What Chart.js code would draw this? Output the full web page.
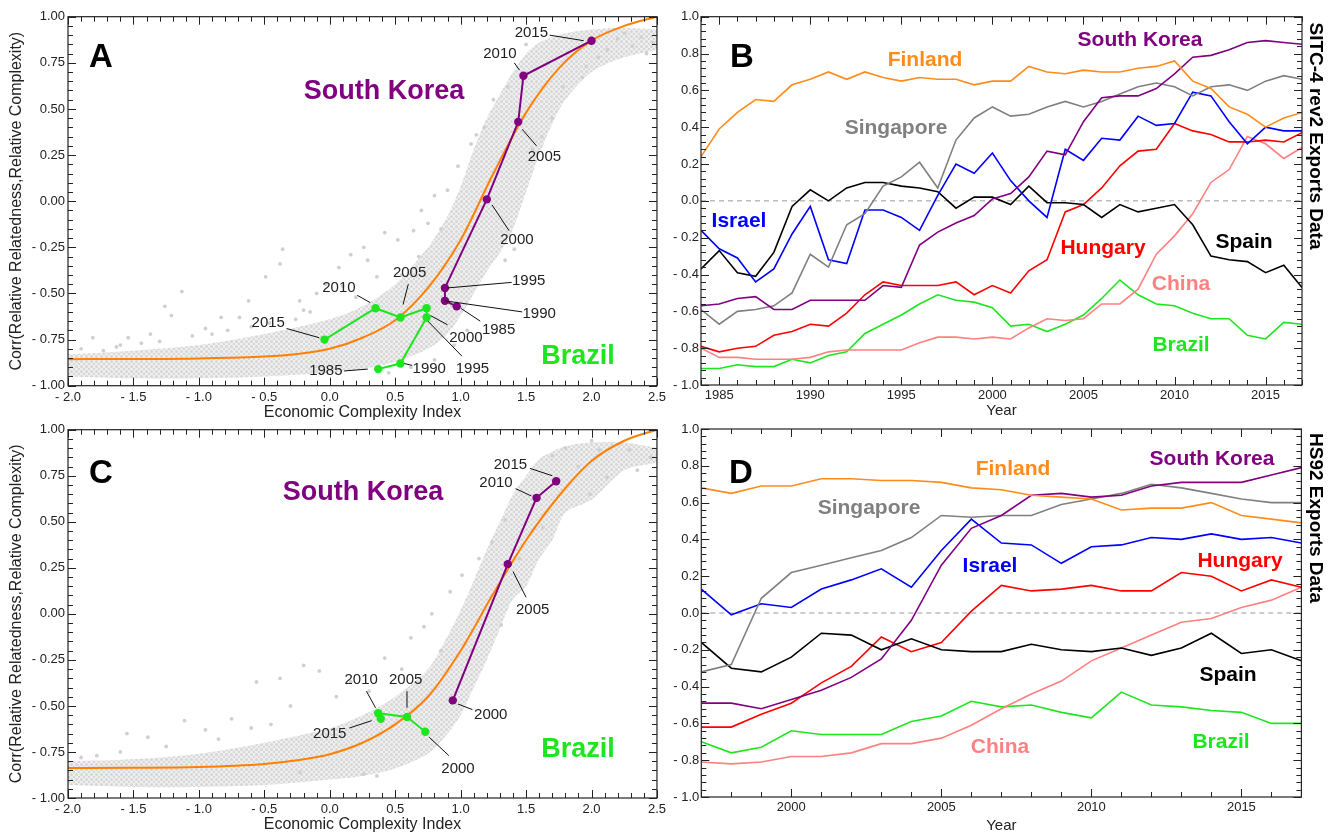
<!DOCTYPE html>
<html>
<head>
<meta charset="utf-8">
<script src="https://cdn.jsdelivr.net/npm/chart.js@4.4.1/dist/chart.umd.min.js"></script>
<style>
  body { margin: 0; background: #fff; width: 1336px; height: 838px; overflow: hidden; position: relative; font-family: 'Liberation Sans', Arial, sans-serif; }
  canvas { position: absolute; }
  .lbl { position: absolute; transform: translate(-50%, -50%); font-weight: bold; white-space: nowrap; line-height: 1; }
  .big { font-size: 27px; }
  .mid { font-size: 21px; }
  .panel { font-size: 33px; color: #000; }
  .side { position: absolute; font-weight: bold; font-size: 19px; white-space: nowrap; line-height: 1; transform: translate(-50%, -50%) rotate(90deg); color: #000; }
</style>
</head>
<body>
<canvas id="chartA" width="670" height="422" style="left:0;top:0"></canvas>
<canvas id="chartB" width="666" height="418" style="left:670px;top:0"></canvas>
<canvas id="chartC" width="670" height="420" style="left:0;top:418px"></canvas>
<canvas id="chartD" width="666" height="420" style="left:670px;top:418px"></canvas>

<div class="lbl panel" style="left:101px;top:55px">A</div>
<div class="lbl big" style="left:384px;top:90px;color:#800080">South Korea</div>
<div class="lbl big" style="left:578px;top:355px;color:#1ee61e">Brazil</div>

<div class="lbl panel" style="left:101px;top:471px">C</div>
<div class="lbl big" style="left:363px;top:491px;color:#800080">South Korea</div>
<div class="lbl big" style="left:578px;top:748px;color:#1ee61e">Brazil</div>

<div class="lbl panel" style="left:742px;top:55px">B</div>
<div class="lbl mid" style="left:925px;top:58px;color:#ff8c1a">Finland</div>
<div class="lbl mid" style="left:1140px;top:38px;color:#800080">South Korea</div>
<div class="lbl mid" style="left:896px;top:126px;color:#808080">Singapore</div>
<div class="lbl mid" style="left:739px;top:219px;color:#0000ff">Israel</div>
<div class="lbl mid" style="left:1103px;top:246px;color:#ff0000">Hungary</div>
<div class="lbl mid" style="left:1244px;top:240px;color:#000">Spain</div>
<div class="lbl mid" style="left:1181px;top:282px;color:#ff8080">China</div>
<div class="lbl mid" style="left:1181px;top:343px;color:#1ee61e">Brazil</div>
<div class="side" style="left:1316px;top:136px">SITC-4 rev2 Exports Data</div>

<div class="lbl panel" style="left:741px;top:471px">D</div>
<div class="lbl mid" style="left:1013px;top:467px;color:#ff8c1a">Finland</div>
<div class="lbl mid" style="left:1212px;top:457px;color:#800080">South Korea</div>
<div class="lbl mid" style="left:869px;top:506px;color:#808080">Singapore</div>
<div class="lbl mid" style="left:990px;top:564px;color:#0000ff">Israel</div>
<div class="lbl mid" style="left:1240px;top:559px;color:#ff0000">Hungary</div>
<div class="lbl mid" style="left:1228px;top:673px;color:#000">Spain</div>
<div class="lbl mid" style="left:1000px;top:745px;color:#ff8080">China</div>
<div class="lbl mid" style="left:1221px;top:740px;color:#1ee61e">Brazil</div>
<div class="side" style="left:1316px;top:518px">HS92 Exports Data</div>

<script>
// ---- tick values ----
const eciTicks = [-2.0, -1.5, -1.0, -0.5, 0.0, 0.5, 1.0, 1.5, 2.0, 2.5];
const corrTicks = [-1.0, -0.75, -0.5, -0.25, 0.0, 0.25, 0.5, 0.75, 1.0];
const shareTicks = [-1.0, -0.8, -0.6, -0.4, -0.2, 0.0, 0.2, 0.4, 0.6, 0.8, 1.0];
const yearTicksB = [1985, 1990, 1995, 2000, 2005, 2010, 2015];
const yearTicksD = [2000, 2005, 2010, 2015];

// ---- panel A (SITC) ----
const cloudXA = [-2.0, -1.5, -1.0, -0.5, 0.0, 0.25, 0.5, 0.75, 0.9, 1.0, 1.1, 1.2, 1.3, 1.4, 1.5, 1.6, 1.7, 1.8, 2.0, 2.25, 2.5];
const cloudTopA = [-0.83, -0.81, -0.78, -0.72, -0.64, -0.57, -0.45, -0.25, -0.08, 0.08, 0.28, 0.45, 0.58, 0.70, 0.80, 0.86, 0.89, 0.91, 0.93, 0.94, 0.93];
const cloudBotA = [-0.95, -0.96, -0.96, -0.95, -0.93, -0.91, -0.87, -0.80, -0.72, -0.62, -0.50, -0.38, -0.28, -0.15, 0.05, 0.25, 0.42, 0.55, 0.70, 0.78, 0.82];
const strayXA = [-0.36, -0.49, -0.38, -1.13, -1.26, -1.21, -1.37, -1.54, -1.81, -1.73, -0.83, -0.95, 0.16, 0.26, 0.29, 0.07, 0.42, 0.52, 0.64, 0.80, 0.90, 0.98, 1.08, 1.18, 1.36, 1.41, 1.34, 1.93, 1.96, 2.12, 2.25, 2.38, 2.47, 2.31, -0.23, -0.10, -0.69, -0.62, -0.20, -0.03, 0.10, 0.36, -0.26, -0.46, -0.78, -1.05, -1.63, -1.44, 0.45, 0.62, 0.80, 0.95, 1.05, 0.70, 0.75, 0.85, 1.62, 1.70, 1.55, -1.90, -1.60, -1.30, -0.90, -0.60, -0.15, 0.20, 0.55, 0.68, 1.12, 1.25, 1.50, 1.78, 2.05, 2.20, 2.42];
const strayYA = [-0.26, -0.41, -0.34, -0.49, -0.57, -0.62, -0.72, -0.74, -0.74, -0.81, -0.63, -0.69, -0.29, -0.25, -0.32, -0.36, -0.17, -0.21, -0.16, 0.03, 0.06, 0.19, 0.31, 0.40, 0.62, -0.26, -0.32, 0.67, 0.73, 0.82, 0.91, 0.89, 0.86, 0.84, -0.54, -0.50, -0.63, -0.54, -0.59, -0.45, -0.46, -0.41, -0.64, -0.66, -0.70, -0.73, -0.79, -0.77, -0.93, -0.90, -0.86, -0.78, -0.70, -0.05, -0.12, -0.15, 0.35, 0.45, 0.28, -0.80, -0.78, -0.76, -0.72, -0.68, -0.60, -0.52, -0.40, -0.30, 0.36, 0.55, 0.85, 0.62, 0.78, 0.88, 0.80];
const fitXA = [-2.0, -1.5, -1.0, -0.5, -0.25, 0.0, 0.25, 0.5, 0.75, 1.0, 1.25, 1.5, 1.75, 2.0, 2.25, 2.5];
const fitYA = [-0.856, -0.855, -0.852, -0.842, -0.828, -0.80, -0.74, -0.645, -0.47, -0.21, 0.15, 0.48, 0.72, 0.87, 0.95, 1.0];
const koreaEciA = [0.97, 0.88, 0.88, 1.20, 1.44, 1.48, 2.00];
const koreaCorrA = [-0.57, -0.54, -0.47, 0.01, 0.43, 0.68, 0.87];
const brazilEciA = [0.37, 0.54, 0.74, 0.74, 0.54, 0.35, -0.04];
const brazilCorrA = [-0.91, -0.88, -0.63, -0.58, -0.63, -0.58, -0.75];

// ---- panel C (HS92) ----
const cloudXC = [-2.0, -1.5, -1.0, -0.5, 0.0, 0.25, 0.5, 0.75, 0.9, 1.0, 1.1, 1.2, 1.3, 1.4, 1.5, 1.6, 1.7, 1.8, 2.0, 2.25, 2.5];
const cloudTopC = [-0.80, -0.79, -0.76, -0.70, -0.62, -0.55, -0.45, -0.30, -0.12, 0.02, 0.18, 0.35, 0.50, 0.65, 0.75, 0.84, 0.88, 0.91, 0.93, 0.93, 0.90];
const cloudBotC = [-0.93, -0.94, -0.94, -0.93, -0.90, -0.88, -0.84, -0.76, -0.65, -0.55, -0.40, -0.25, -0.08, 0.08, 0.15, 0.30, 0.40, 0.55, 0.62, 0.78, 0.82];
const strayXC = [-0.56, -0.20, -0.08, -1.11, -1.55, -1.78, -1.39, -0.75, -0.95, -0.38, 0.16, 0.42, 0.62, 0.72, 0.78, 0.92, 1.01, 1.14, 1.24, 1.34, 1.70, 1.80, 2.00, 2.12, 1.99, 2.06, 2.29, 2.45, 1.63, 1.31, 1.08, 0.26, 0.36, -0.23, -1.25, -0.60, -0.30, 0.05, -1.90, -1.60, -0.85, -0.45, 0.30, 0.55, 0.85, 1.45, 1.90, 2.35];
const strayYC = [-0.37, -0.28, -0.31, -0.58, -0.65, -0.77, -0.67, -0.57, -0.63, -0.35, -0.37, -0.24, -0.13, -0.07, 0.00, 0.12, 0.21, 0.30, 0.39, 0.51, 0.86, 0.90, 0.94, 0.74, 0.65, 0.89, 0.89, 0.85, 0.47, -0.06, -0.20, -0.87, -0.88, -0.86, -0.72, -0.62, -0.50, -0.45, -0.78, -0.75, -0.68, -0.60, -0.42, -0.30, -0.20, 0.30, 0.80, 0.78];
const fitXC = [-2.0, -1.5, -1.0, -0.5, -0.25, 0.0, 0.25, 0.5, 0.75, 1.0, 1.25, 1.5, 1.75, 2.0, 2.25, 2.5];
const fitYC = [-0.837, -0.836, -0.832, -0.815, -0.795, -0.762, -0.70, -0.60, -0.45, -0.20, 0.11, 0.40, 0.64, 0.83, 0.94, 1.0];
const koreaEciC = [0.94, 1.36, 1.58, 1.73];
const koreaCorrC = [-0.47, 0.27, 0.63, 0.72];
const brazilEciC = [0.73, 0.59, 0.37, 0.39];
const brazilCorrC = [-0.64, -0.56, -0.54, -0.57];

// ---- panel B (SITC time series) ----
const yearsB = [1984, 1985, 1986, 1987, 1988, 1989, 1990, 1991, 1992, 1993, 1994, 1995, 1996, 1997, 1998, 1999, 2000, 2001, 2002, 2003, 2004, 2005, 2006, 2007, 2008, 2009, 2010, 2011, 2012, 2013, 2014, 2015, 2016, 2017];
const finlandB = [0.24, 0.39, 0.48, 0.55, 0.54, 0.63, 0.66, 0.70, 0.66, 0.70, 0.67, 0.65, 0.67, 0.66, 0.66, 0.63, 0.65, 0.65, 0.73, 0.70, 0.69, 0.71, 0.70, 0.70, 0.72, 0.73, 0.76, 0.65, 0.61, 0.51, 0.47, 0.40, 0.45, 0.48];
const koreaB = [-0.57, -0.56, -0.53, -0.52, -0.59, -0.59, -0.54, -0.54, -0.54, -0.54, -0.46, -0.47, -0.24, -0.17, -0.12, -0.08, 0.01, 0.04, 0.13, 0.27, 0.25, 0.43, 0.56, 0.57, 0.57, 0.61, 0.69, 0.78, 0.79, 0.82, 0.86, 0.87, 0.86, 0.85];
const singaporeB = [-0.59, -0.67, -0.60, -0.59, -0.57, -0.50, -0.29, -0.36, -0.13, -0.07, 0.08, 0.13, 0.21, 0.07, 0.33, 0.45, 0.51, 0.46, 0.47, 0.51, 0.54, 0.51, 0.54, 0.58, 0.62, 0.64, 0.62, 0.57, 0.62, 0.63, 0.60, 0.65, 0.68, 0.66];
const israelB = [-0.16, -0.26, -0.31, -0.44, -0.37, -0.18, -0.03, -0.32, -0.34, -0.05, -0.05, -0.09, -0.16, 0.03, 0.20, 0.15, 0.26, 0.11, 0.00, -0.09, 0.28, 0.22, 0.34, 0.33, 0.46, 0.41, 0.42, 0.59, 0.57, 0.43, 0.31, 0.40, 0.38, 0.38];
const spainB = [-0.37, -0.27, -0.39, -0.41, -0.28, -0.03, 0.06, 0.00, 0.07, 0.10, 0.10, 0.08, 0.07, 0.05, -0.04, 0.02, 0.02, -0.02, 0.08, -0.01, -0.01, -0.02, -0.09, -0.02, -0.06, -0.04, -0.02, -0.13, -0.30, -0.32, -0.33, -0.39, -0.35, -0.47];
const hungaryB = [-0.79, -0.82, -0.80, -0.79, -0.73, -0.71, -0.67, -0.68, -0.61, -0.51, -0.44, -0.46, -0.46, -0.46, -0.44, -0.51, -0.46, -0.50, -0.38, -0.32, -0.06, -0.02, 0.07, 0.19, 0.27, 0.28, 0.42, 0.38, 0.36, 0.32, 0.32, 0.33, 0.32, 0.37];
const chinaB = [-0.80, -0.85, -0.85, -0.86, -0.86, -0.86, -0.85, -0.82, -0.81, -0.81, -0.81, -0.81, -0.77, -0.74, -0.74, -0.75, -0.74, -0.75, -0.69, -0.64, -0.65, -0.64, -0.56, -0.56, -0.48, -0.29, -0.19, -0.07, 0.10, 0.17, 0.35, 0.31, 0.23, 0.29];
const brazilB = [-0.91, -0.91, -0.89, -0.90, -0.90, -0.86, -0.88, -0.84, -0.82, -0.72, -0.67, -0.62, -0.56, -0.51, -0.54, -0.55, -0.58, -0.68, -0.67, -0.71, -0.67, -0.62, -0.53, -0.43, -0.51, -0.56, -0.57, -0.61, -0.64, -0.64, -0.73, -0.75, -0.66, -0.67];

// ---- panel D (HS92 time series) ----
const yearsD = [1997, 1998, 1999, 2000, 2001, 2002, 2003, 2004, 2005, 2006, 2007, 2008, 2009, 2010, 2011, 2012, 2013, 2014, 2015, 2016, 2017];
const finlandD = [0.68, 0.65, 0.69, 0.69, 0.73, 0.73, 0.72, 0.72, 0.71, 0.68, 0.67, 0.64, 0.63, 0.62, 0.56, 0.57, 0.57, 0.60, 0.53, 0.51, 0.49];
const koreaD = [-0.49, -0.49, -0.52, -0.47, -0.42, -0.35, -0.25, -0.04, 0.26, 0.46, 0.53, 0.64, 0.65, 0.63, 0.64, 0.69, 0.71, 0.71, 0.71, 0.75, 0.79];
const singaporeD = [-0.32, -0.28, 0.08, 0.22, 0.26, 0.30, 0.34, 0.41, 0.53, 0.52, 0.53, 0.53, 0.59, 0.62, 0.65, 0.70, 0.68, 0.65, 0.62, 0.60, 0.60];
const israelD = [0.13, -0.01, 0.05, 0.03, 0.13, 0.18, 0.24, 0.14, 0.34, 0.51, 0.38, 0.37, 0.27, 0.36, 0.37, 0.41, 0.40, 0.43, 0.40, 0.41, 0.38];
const spainD = [-0.16, -0.30, -0.32, -0.24, -0.11, -0.12, -0.20, -0.14, -0.20, -0.21, -0.21, -0.17, -0.20, -0.21, -0.19, -0.23, -0.19, -0.11, -0.22, -0.20, -0.26];
const hungaryD = [-0.62, -0.62, -0.55, -0.49, -0.38, -0.29, -0.13, -0.21, -0.16, 0.01, 0.15, 0.12, 0.13, 0.15, 0.12, 0.12, 0.22, 0.20, 0.12, 0.18, 0.14];
const chinaD = [-0.81, -0.82, -0.81, -0.78, -0.78, -0.76, -0.71, -0.71, -0.68, -0.61, -0.52, -0.44, -0.37, -0.26, -0.19, -0.12, -0.05, -0.03, 0.03, 0.07, 0.14];
const brazilD = [-0.70, -0.76, -0.73, -0.64, -0.66, -0.66, -0.66, -0.59, -0.56, -0.48, -0.51, -0.50, -0.54, -0.57, -0.43, -0.50, -0.51, -0.53, -0.54, -0.60, -0.60];

// year labels with leader lines (data coordinates)
const notesA = [
    { t: '2015', at: [1.54, 0.91], from: [1.68, 0.90], to: [1.94, 0.87] },
    { t: '2010', at: [1.30, 0.80], from: [1.41, 0.75], to: [1.45, 0.71] },
    { t: '2005', at: [1.64, 0.24], from: [1.47, 0.39], to: [1.58, 0.30] },
    { t: '2000', at: [1.43, -0.21], from: [1.24, -0.02], to: [1.37, -0.16] },
    { t: '1995', at: [1.52, -0.43], from: [0.90, -0.47], to: [1.39, -0.44] },
    { t: '1990', at: [1.60, -0.61], from: [0.88, -0.54], to: [1.47, -0.60] },
    { t: '1985', at: [1.29, -0.70], from: [1.00, -0.58], to: [1.15, -0.65] },
    { t: '2015', at: [-0.47, -0.66], from: [-0.33, -0.69], to: [-0.08, -0.74] },
    { t: '2010', at: [0.07, -0.47], from: [0.21, -0.51], to: [0.31, -0.55] },
    { t: '2005', at: [0.61, -0.39], from: [0.60, -0.45], to: [0.56, -0.56] },
    { t: '2000', at: [1.04, -0.74], from: [0.77, -0.62], to: [0.90, -0.67] },
    { t: '1995', at: [1.09, -0.91], from: [0.75, -0.65], to: [1.01, -0.84] },
    { t: '1990', at: [0.76, -0.91], from: [0.57, -0.88], to: [0.63, -0.89] },
    { t: '1985', at: [-0.03, -0.92], from: [0.11, -0.92], to: [0.29, -0.91] }
];
const notesC = [
    { t: '2015', at: [1.38, 0.81], from: [1.53, 0.79], to: [1.70, 0.75] },
    { t: '2010', at: [1.27, 0.71], from: [1.42, 0.68], to: [1.54, 0.64] },
    { t: '2005', at: [1.55, 0.02], from: [1.40, 0.23], to: [1.50, 0.09] },
    { t: '2000', at: [1.23, -0.55], from: [0.98, -0.49], to: [1.09, -0.52] },
    { t: '2010', at: [0.24, -0.36], from: [0.28, -0.42], to: [0.35, -0.51] },
    { t: '2005', at: [0.58, -0.36], from: [0.59, -0.42], to: [0.59, -0.51] },
    { t: '2015', at: [0.00, -0.65], from: [0.15, -0.62], to: [0.32, -0.58] },
    { t: '2000', at: [0.98, -0.84], from: [0.76, -0.67], to: [0.91, -0.77] }
];

const FONT = "'Liberation Sans', Arial, sans-serif";
Chart.defaults.font.family = FONT;
Chart.defaults.color = '#222';

const PURPLE = '#800080';
const GREEN = '#1ee61e';
const ORANGE = '#ff8000';

function pts(xs, ys) {
    return xs.map((x, i) => ({ x: x, y: ys[i] }));
}

function fmt(v, digits) {
    const s = Math.abs(v).toFixed(digits);
    return v < -1e-9 ? '- ' + s : s;
}

function isMajor(v, step) {
    const r = v / step;
    return Math.abs(r - Math.round(r)) < 1e-6;
}

// dotted texture for the dense part of the country cloud
function dotPattern() {
    const tile = document.createElement('canvas');
    tile.width = 5;
    tile.height = 5;
    const c = tile.getContext('2d');
    c.fillStyle = '#efefef';
    c.fillRect(0, 0, 5, 5);
    c.fillStyle = '#d6d6d6';
    c.beginPath();
    c.arc(1.5, 1.5, 1.5, 0, Math.PI * 2);
    c.arc(4, 4, 1.2, 0, Math.PI * 2);
    c.fill();
    return c.createPattern(tile, 'repeat');
}

// box around the plot with inward ticks on all four sides, plus optional zero line
const frame = {
    id: 'frame',
    beforeDatasetsDraw(chart, args, o) {
        if (!o.zero) return;
        const { ctx, chartArea: a, scales: { y } } = chart;
        const py = y.getPixelForValue(0);
        ctx.save();
        ctx.setLineDash([5, 4]);
        ctx.strokeStyle = '#999';
        ctx.lineWidth = 1;
        ctx.beginPath();
        ctx.moveTo(a.left, py);
        ctx.lineTo(a.right, py);
        ctx.stroke();
        ctx.restore();
    },
    afterDatasetsDraw(chart, args, o) {
        const { ctx, chartArea: a, scales: { x, y } } = chart;
        ctx.save();
        ctx.strokeStyle = '#222';
        ctx.lineWidth = 1.2;
        ctx.strokeRect(a.left, a.top, a.right - a.left, a.bottom - a.top);
        ctx.beginPath();
        const nx = Math.round((x.max - x.min) / o.xStep);
        for (let i = 0; i <= nx; i++) {
            const v = x.min + i * o.xStep;
            const len = isMajor(v, o.xMajor) ? 8 : 5;
            const px = Math.round(x.getPixelForValue(v)) + 0.5;
            ctx.moveTo(px, a.bottom); ctx.lineTo(px, a.bottom - len);
            ctx.moveTo(px, a.top); ctx.lineTo(px, a.top + len);
        }
        const ny = Math.round((y.max - y.min) / o.yStep);
        for (let i = 0; i <= ny; i++) {
            const v = y.min + i * o.yStep;
            const len = isMajor(v, o.yMajor) ? 8 : 5;
            const py = Math.round(y.getPixelForValue(v)) + 0.5;
            ctx.moveTo(a.left, py); ctx.lineTo(a.left + len, py);
            ctx.moveTo(a.right, py); ctx.lineTo(a.right - len, py);
        }
        ctx.lineWidth = 1;
        ctx.stroke();
        ctx.restore();
    }
};

const notes = {
    id: 'notes',
    afterDatasetsDraw(chart, args, o) {
        if (!o.list) return;
        const { ctx, scales: { x, y } } = chart;
        ctx.save();
        ctx.strokeStyle = '#111';
        ctx.lineWidth = 1;
        ctx.fillStyle = '#222';
        ctx.font = '15px ' + FONT;
        ctx.textAlign = 'center';
        ctx.textBaseline = 'middle';
        o.list.forEach(n => {
            ctx.beginPath();
            ctx.moveTo(x.getPixelForValue(n.from[0]), y.getPixelForValue(n.from[1]));
            ctx.lineTo(x.getPixelForValue(n.to[0]), y.getPixelForValue(n.to[1]));
            ctx.stroke();
            ctx.fillText(n.t, x.getPixelForValue(n.at[0]), y.getPixelForValue(n.at[1]));
        });
        ctx.restore();
    }
};

function scatterChart(id, d, box) {
    const datasets = [
        { data: pts(d.cloudX, d.cloudTop), backgroundColor: dotPattern(), borderWidth: 0, pointRadius: 0, fill: '+1', tension: 0.3, order: 10 },
        { data: pts(d.cloudX, d.cloudBot), borderWidth: 0, pointRadius: 0, fill: false, tension: 0.3, order: 10 },
        { data: pts(d.strayX, d.strayY), showLine: false, pointRadius: 1.9, pointBorderWidth: 0, pointBackgroundColor: '#d0d0d0', order: 9 },
        { data: pts(d.fitX, d.fitY), borderColor: ORANGE, borderWidth: 2, pointRadius: 0, cubicInterpolationMode: 'monotone', fill: false, order: 5 },
        { data: pts(d.brazilX, d.brazilY), borderColor: GREEN, backgroundColor: GREEN, borderWidth: 2, pointRadius: 4.2, pointBorderWidth: 0, fill: false, order: 2 },
        { data: pts(d.koreaX, d.koreaY), borderColor: PURPLE, backgroundColor: PURPLE, borderWidth: 2, pointRadius: 4.2, pointBorderWidth: 0, fill: false, order: 1 }
    ];
    return new Chart(document.getElementById(id), {
        type: 'line',
        data: { datasets: datasets },
        options: {
            responsive: false,
            animation: false,
            events: [],
            layout: { autoPadding: false, padding: { left: 0, right: box.right, top: box.top, bottom: 0 } },
            plugins: {
                legend: { display: false },
                tooltip: { enabled: false },
                frame: { xStep: 0.1, xMajor: 0.5, yStep: 0.05, yMajor: 0.25 },
                notes: { list: d.notes }
            },
            scales: {
                x: {
                    type: 'linear', min: -2, max: 2.5,
                    grid: { display: false, drawTicks: false }, border: { display: false },
                    afterBuildTicks: s => { s.ticks = eciTicks.map(v => ({ value: v })); },
                    afterFit: s => { s.height = box.xHeight; },
                    ticks: { autoSkip: false, maxRotation: 0, padding: 4, font: { size: 13 }, callback: v => fmt(v, 1) },
                    title: { display: true, text: 'Economic Complexity Index', font: { size: 16, lineHeight: 1 }, padding: { top: 0, bottom: box.xTitlePad } }
                },
                y: {
                    type: 'linear', min: -1, max: 1,
                    grid: { display: false, drawTicks: false }, border: { display: false },
                    afterBuildTicks: s => { s.ticks = corrTicks.map(v => ({ value: v })); },
                    afterFit: s => { s.width = box.yWidth; },
                    ticks: { autoSkip: false, padding: 3, font: { size: 13 }, callback: v => fmt(v, 2) },
                    title: { display: true, text: 'Corr(Relative Relatedness,Relative Complexity)', font: { size: 16, lineHeight: 1 }, padding: { top: 9, bottom: 0 } }
                }
            }
        },
        plugins: [frame, notes]
    });
}

function seriesChart(id, years, rows, yearTicks, box) {
    const datasets = rows.map((r, i) => ({
        data: pts(years, r.values),
        borderColor: r.color,
        borderWidth: 1.6,
        pointRadius: 0,
        fill: false,
        tension: 0,
        order: i
    }));
    return new Chart(document.getElementById(id), {
        type: 'line',
        data: { datasets: datasets },
        options: {
            responsive: false,
            animation: false,
            events: [],
            layout: { autoPadding: false, padding: { left: 0, right: box.right, top: box.top, bottom: 0 } },
            plugins: {
                legend: { display: false },
                tooltip: { enabled: false },
                frame: { xStep: 1, xMajor: 5, yStep: 0.04, yMajor: 0.2, zero: true }
            },
            scales: {
                x: {
                    type: 'linear', min: years[0], max: years[years.length - 1],
                    grid: { display: false, drawTicks: false }, border: { display: false },
                    afterBuildTicks: s => { s.ticks = yearTicks.map(v => ({ value: v })); },
                    afterFit: s => { s.height = box.xHeight; },
                    ticks: { autoSkip: false, maxRotation: 0, padding: 3, font: { size: 13 }, callback: v => String(v) },
                    title: { display: true, text: 'Year', font: { size: 15, lineHeight: 1 }, padding: { top: 0, bottom: box.xTitlePad } }
                },
                y: {
                    type: 'linear', min: -1, max: 1,
                    grid: { display: false, drawTicks: false }, border: { display: false },
                    afterBuildTicks: s => { s.ticks = shareTicks.map(v => ({ value: v })); },
                    afterFit: s => { s.width = box.yWidth; },
                    ticks: { autoSkip: false, padding: 2, font: { size: 13 }, callback: v => fmt(v, 1) }
                }
            }
        },
        plugins: [frame]
    });
}

scatterChart('chartA', {
    cloudX: cloudXA, cloudTop: cloudTopA, cloudBot: cloudBotA,
    strayX: strayXA, strayY: strayYA,
    fitX: fitXA, fitY: fitYA,
    koreaX: koreaEciA, koreaY: koreaCorrA,
    brazilX: brazilEciA, brazilY: brazilCorrA,
    notes: notesA
}, { yWidth: 68, right: 10.6, top: 16.7, xHeight: 36.3, xTitlePad: 1 });

scatterChart('chartC', {
    cloudX: cloudXC, cloudTop: cloudTopC, cloudBot: cloudBotC,
    strayX: strayXC, strayY: strayYC,
    fitX: fitXC, fitY: fitYC,
    koreaX: koreaEciC, koreaY: koreaCorrC,
    brazilX: brazilEciC, brazilY: brazilCorrC,
    notes: notesC
}, { yWidth: 68, right: 10.6, top: 11.7, xHeight: 40, xTitlePad: 5 });

seriesChart('chartB', yearsB, [
    { values: finlandB, color: '#ff8c1a' },
    { values: koreaB, color: PURPLE },
    { values: singaporeB, color: '#808080' },
    { values: israelB, color: '#0000ff' },
    { values: spainB, color: '#000000' },
    { values: hungaryB, color: '#ff0000' },
    { values: chinaB, color: '#ff8080' },
    { values: brazilB, color: GREEN }
], yearTicksB, { yWidth: 31, right: 34, top: 16.7, xHeight: 33, xTitlePad: 0 });

seriesChart('chartD', yearsD, [
    { values: finlandD, color: '#ff8c1a' },
    { values: koreaD, color: PURPLE },
    { values: singaporeD, color: '#808080' },
    { values: israelD, color: '#0000ff' },
    { values: spainD, color: '#000000' },
    { values: hungaryD, color: '#ff0000' },
    { values: chinaD, color: '#ff8080' },
    { values: brazilD, color: GREEN }
], yearTicksD, { yWidth: 31.3, right: 34.6, top: 11, xHeight: 41, xTitlePad: 5 });
</script>
</body>
</html>
